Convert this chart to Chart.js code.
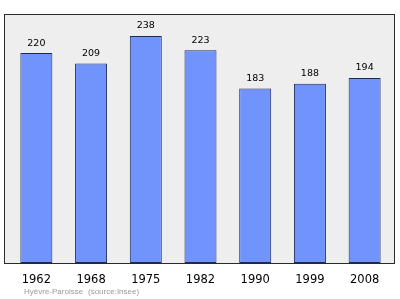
<!DOCTYPE html>
<html>
<head>
<meta charset="utf-8">
<script src="https://cdn.jsdelivr.net/npm/chart.js@4.4.1/dist/chart.umd.min.js"></script>
<style>
  html, body { margin: 0; padding: 0; background: #ffffff; }
  #wrap { width: 400px; height: 299px; position: relative; }
</style>
</head>
<body>
<div id="wrap"><canvas id="graphique" width="400" height="299"></canvas></div>
<script>
const annees = ['1962', '1968', '1975', '1982', '1990', '1999', '2008']
const population = [220, 209, 238, 223, 183, 188, 194]
const yMax = 261
const commune = 'Hyèvre-Paroisse'
const source = '(source:Insee)'

// fond gris + cadre + valeurs au dessus des barres
const decor = {
    id: 'decor',
    beforeDraw(chart) {
        const { ctx, chartArea: a } = chart
        ctx.save()
        ctx.fillStyle = '#eeeeee'
        ctx.fillRect(a.left - 5, a.top, a.right - a.left + 8, a.bottom - a.top)
        ctx.restore()
    },
    afterDatasetsDraw(chart) {
        const { ctx, chartArea: a } = chart
        ctx.save()
        ctx.strokeStyle = '#2a2a2a'
        ctx.lineWidth = 1
        ctx.strokeRect(a.left - 4.5, a.top + 0.5, a.right - a.left + 7, a.bottom - a.top)

        const meta = chart.getDatasetMeta(0)
        ctx.fillStyle = '#000000'
        ctx.font = '9.5px "DejaVu Sans", sans-serif'
        ctx.textAlign = 'center'
        ctx.textBaseline = 'middle'
        meta.data.forEach((bar, i) => {
            ctx.fillText(population[i], bar.x, bar.y - 10)
        })

        ctx.fillStyle = '#9a9a9a'
        ctx.font = '8px "Liberation Sans", sans-serif'
        ctx.textAlign = 'left'
        ctx.fillText(commune, 24, 292)
        ctx.fillText(source, 88, 292)
        ctx.restore()
    }
}

new Chart(document.getElementById('graphique'), {
    type: 'bar',
    data: {
        labels: annees,
        datasets: [{
            data: population,
            backgroundColor: '#7094fc',
            borderColor: '#1c2a58',
            borderWidth: 1,
            borderSkipped: false,
            categoryPercentage: 1,
            barPercentage: 0.585
        }]
    },
    options: {
        responsive: false,
        animation: false,
        devicePixelRatio: 1,
        layout: { padding: { left: 9, right: 8, top: 14, bottom: 0 } },
        plugins: {
            legend: { display: false },
            tooltip: { enabled: false }
        },
        scales: {
            x: {
                grid: { display: false },
                border: { display: false },
                ticks: {
                    color: '#000000',
                    font: { family: '"DejaVu Sans", sans-serif', size: 11.5 },
                    padding: 2,
                    maxRotation: 0
                },
                afterFit(scale) { scale.height = 36 }
            },
            y: {
                display: false,
                min: 0,
                max: yMax
            }
        }
    },
    plugins: [decor]
})
</script>
</body>
</html>
